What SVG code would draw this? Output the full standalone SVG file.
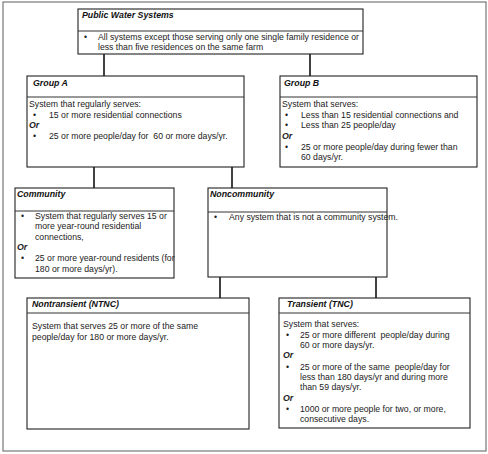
<svg xmlns="http://www.w3.org/2000/svg" width="488" height="454" viewBox="0 0 488 454">
<style>
.box{fill:#fff;stroke:#222;stroke-width:1.1}
.div{stroke:#333;stroke-width:1}
.t{font-family:"Liberation Sans",Arial,sans-serif;font-size:8.7px;fill:#222;white-space:pre}
.h{font-family:"Liberation Sans",Arial,sans-serif;font-size:8.8px;font-weight:bold;font-style:italic;fill:#111}
.or{font-family:"Liberation Sans",Arial,sans-serif;font-size:8.8px;font-weight:bold;font-style:italic;fill:#222}
.c{stroke:#111;stroke-width:1.6;fill:none}
</style>
<rect x="0" y="0" width="488" height="454" fill="#fff"/>
<rect x="3" y="2" width="483" height="449" fill="none" stroke="#777" stroke-width="1.2"/>
<g id="connectors">
<line class="c" x1="104" y1="54" x2="104" y2="76"/>
<line class="c" x1="310" y1="54" x2="310" y2="76"/>
<line class="c" x1="94" y1="167" x2="94" y2="188"/>
<line class="c" x1="232" y1="167" x2="232" y2="188"/>
<line class="c" x1="220" y1="277" x2="220" y2="298"/>
<line class="c" x1="376" y1="277" x2="376" y2="298"/>
</g>
<g id="public-water-systems">
<rect class="box" x="78" y="9" width="285" height="45"/>
<line class="div" x1="78" y1="31" x2="363" y2="31"/>
<text class="h" x="82" y="18">Public Water Systems</text>
<text class="t" x="84" y="40">•</text>
<text class="t" x="98" y="40" textLength="261" lengthAdjust="spacingAndGlyphs">All systems except those serving only one single family residence or</text>
<text class="t" x="98" y="50">less than five residences on the same farm</text>
</g>
<g id="group-a">
<rect class="box" x="27" y="76" width="217" height="91"/>
<line class="div" x1="27" y1="97" x2="244" y2="97"/>
<text class="h" x="33" y="86">Group A</text>
<text class="t" x="29" y="107">System that regularly serves:</text>
<text class="t" x="33" y="118">•</text>
<text class="t" x="49" y="118">15 or more residential connections</text>
<text class="or" x="29" y="128">Or</text>
<text class="t" x="33" y="139">•</text>
<text class="t" x="49" y="139" xml:space="preserve">25 or more people/day for  60 or more days/yr.</text>
</g>
<g id="group-b">
<rect class="box" x="280" y="76" width="197" height="91"/>
<line class="div" x1="280" y1="97" x2="477" y2="97"/>
<text class="h" x="284" y="86">Group B</text>
<text class="t" x="282" y="107">System that serves:</text>
<text class="t" x="285" y="118">•</text>
<text class="t" x="301" y="118">Less than 15 residential connections and</text>
<text class="t" x="285" y="128">•</text>
<text class="t" x="301" y="128">Less than 25 people/day</text>
<text class="or" x="282" y="139">Or</text>
<text class="t" x="285" y="150">•</text>
<text class="t" x="301" y="150">25 or more people/day during fewer than</text>
<text class="t" x="301" y="160">60 days/yr.</text>
</g>
<g id="community">
<rect class="box" x="15" y="188" width="159" height="90"/>
<line class="div" x1="15" y1="211" x2="174" y2="211"/>
<text class="h" x="17" y="197">Community</text>
<text class="t" x="21" y="219">•</text>
<text class="t" x="35" y="219">System that regularly serves 15 or</text>
<text class="t" x="35" y="229">more year-round residential</text>
<text class="t" x="35" y="240">connections,</text>
<text class="or" x="17" y="250">Or</text>
<text class="t" x="21" y="261">•</text>
<text class="t" x="35" y="261">25 or more year-round residents (for</text>
<text class="t" x="35" y="272">180 or more days/yr).</text>
</g>
<g id="noncommunity">
<rect class="box" x="208" y="188" width="179" height="89"/>
<line class="div" x1="208" y1="212" x2="387" y2="212"/>
<text class="h" x="210" y="197">Noncommunity</text>
<text class="t" x="214" y="220">•</text>
<text class="t" x="229" y="220">Any system that is not a community system.</text>
</g>
<g id="nontransient">
<rect class="box" x="27" y="298" width="222" height="131"/>
<line class="div" x1="27" y1="313" x2="249" y2="313"/>
<text class="h" x="32" y="307">Nontransient (NTNC)</text>
<text class="t" x="32" y="329">System that serves 25 or more of the same</text>
<text class="t" x="32" y="340">people/day for 180 or more days/yr.</text>
</g>
<g id="transient">
<rect class="box" x="279" y="298" width="191" height="130"/>
<line class="div" x1="279" y1="313" x2="470" y2="313"/>
<text class="h" x="287" y="307">Transient (TNC)</text>
<text class="t" x="283" y="327">System that serves:</text>
<text class="t" x="286" y="338">•</text>
<text class="t" x="300" y="338" xml:space="preserve">25 or more different  people/day during</text>
<text class="t" x="300" y="348">60 or more days/yr.</text>
<text class="or" x="283" y="358">Or</text>
<text class="t" x="286" y="370">•</text>
<text class="t" x="300" y="370" xml:space="preserve">25 or more of the same  people/day for</text>
<text class="t" x="300" y="380">less than 180 days/yr and during more</text>
<text class="t" x="300" y="390">than 59 days/yr.</text>
<text class="or" x="283" y="401">Or</text>
<text class="t" x="286" y="412">•</text>
<text class="t" x="300" y="412">1000 or more people for two, or more,</text>
<text class="t" x="300" y="422">consecutive days.</text>
</g>
</svg>
